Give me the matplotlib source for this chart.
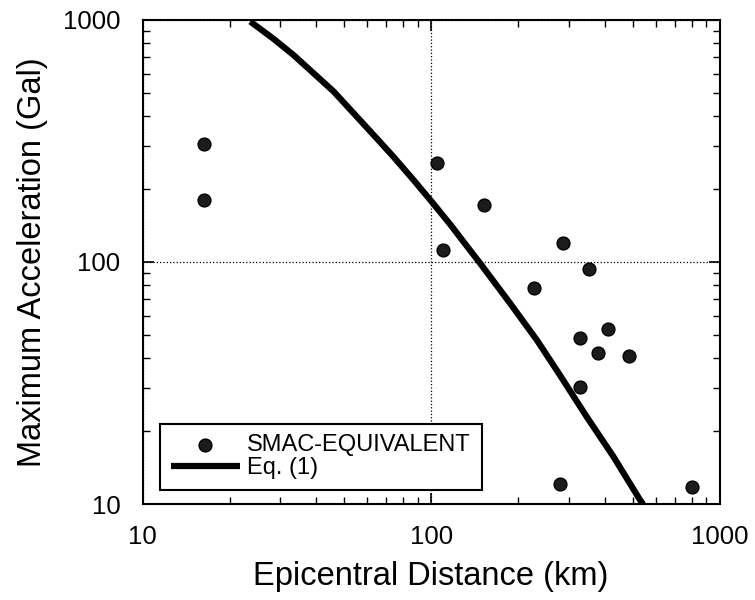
import numpy as np
import matplotlib.pyplot as plt
from matplotlib.ticker import FixedLocator, NullFormatter

# observed peak accelerations (SMAC-equivalent)
dist_obs = [16.3, 16.3, 105, 110, 152, 286, 352, 228, 412, 327, 378, 484, 327, 279, 800]
acc_obs = [308, 180, 256, 112, 172, 120, 93.5, 78, 52.9, 48.5, 42.1, 41, 30.4, 12.1, 11.7]

# Eq. (1) curve
dist_eq = [23.6, 28.4, 33.3, 39.1, 45.9, 53.8, 63.1, 74.0, 86.9, 100.6,
           116.4, 131, 147.8, 187.8, 232.5, 280, 346.5, 428.6, 530, 545]
acc_eq = [984, 835, 716, 602, 506, 412, 335, 272, 218, 177,
          143, 119, 98.8, 67.5, 47.6, 34.0, 22.9, 15.7, 10.4, 9.9]

xticks = [10, 100, 1000]
yticks = [10, 100, 1000]

plt.rcParams['font.family'] = ['Liberation Sans', 'DejaVu Sans']

fig = plt.figure(figsize=(7.55, 6.0), dpi=100)
ax = fig.add_axes([0.189, 0.16, 0.764, 0.807])

ax.plot(dist_eq, acc_eq, color='black', lw=4.5, solid_capstyle='butt',
        label='Eq. (1)', zorder=3)
ax.scatter(dist_obs, acc_obs, s=85, color='#1c1c1c', edgecolor='black',
           lw=1, label='SMAC-EQUIVALENT', zorder=4)

ax.set_xscale('log')
ax.set_yscale('log')
ax.set_xlim(10, 1000)
ax.set_ylim(10, 1000)

ax.xaxis.set_major_locator(FixedLocator(xticks))
ax.yaxis.set_major_locator(FixedLocator(yticks))
ax.set_xticklabels([str(v) for v in xticks])
ax.set_yticklabels([str(v) for v in yticks])
ax.xaxis.set_minor_formatter(NullFormatter())
ax.yaxis.set_minor_formatter(NullFormatter())

ax.tick_params(which='both', direction='in', top=True, right=True,
               labelsize=18.5, color='black')
ax.tick_params(which='major', length=8, width=1.2)
ax.tick_params(axis='x', which='major', pad=15)
ax.tick_params(axis='y', which='major', pad=16)
ax.tick_params(which='minor', length=5, width=1)

ax.grid(True, which='major', linestyle=':', color='black', lw=0.9)
for s in ax.spines.values():
    s.set_linewidth(1.5)

ax.set_xlabel('Epicentral Distance (km)', fontsize=23.5, labelpad=9)
ax.set_ylabel('Maximum Acceleration (Gal)', fontsize=23.5, labelpad=11)

# marker entry first, then the curve
handles, labels = ax.get_legend_handles_labels()
leg = ax.legend(handles[::-1], labels[::-1], loc='lower left',
                bbox_to_anchor=(0.03, 0.029), fontsize=17, frameon=True,
                fancybox=False, edgecolor='black', handlelength=2.95,
                borderpad=0.45, labelspacing=0.05, handletextpad=0.3,
                borderaxespad=0, scatterpoints=1)
leg.get_frame().set_linewidth(1.5)
leg.get_frame().set_alpha(1)

fig.savefig('out.png', dpi=100)
